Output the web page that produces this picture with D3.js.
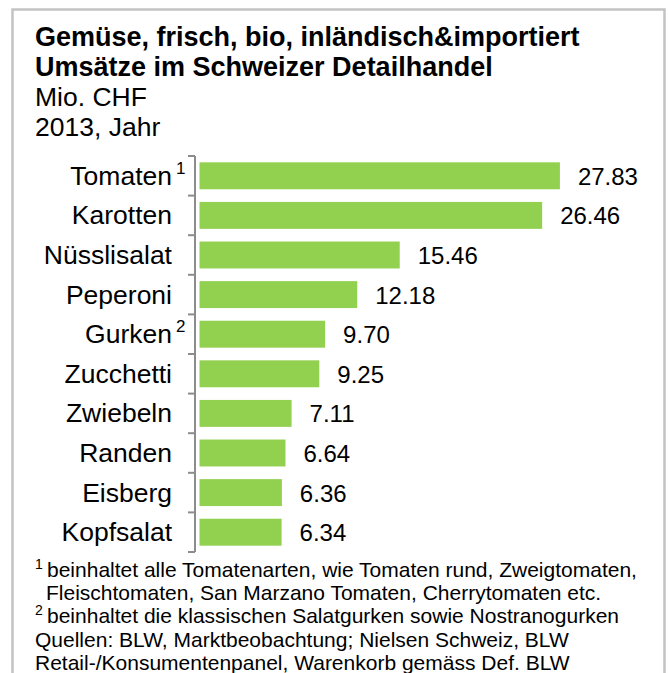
<!DOCTYPE html>
<html>
<head>
<meta charset="utf-8">
<script src="https://cdn.jsdelivr.net/npm/d3@7"></script>
<style>
  html, body { margin: 0; padding: 0; background: #fff; }
  svg { display: block; font-family: "Liberation Sans", Arial, sans-serif; }
</style>
</head>
<body>
<svg id="chart" width="668" height="673"></svg>
<script>
// data
const categories = ['Tomaten', 'Karotten', 'Nüsslisalat', 'Peperoni', 'Gurken', 'Zucchetti', 'Zwiebeln', 'Randen', 'Eisberg', 'Kopfsalat'];
const values = [27.83, 26.46, 15.46, 12.18, 9.70, 9.25, 7.11, 6.64, 6.36, 6.34];
const footnoteMarks = { 'Tomaten': '1', 'Gurken': '2' };
const titleLines = ['Gemüse, frisch, bio, inländisch&importiert', 'Umsätze im Schweizer Detailhandel'];
const subtitleLines = ['Mio. CHF', '2013, Jahr'];
const footnotes = [
    { mark: '1', text: 'beinhaltet alle Tomatenarten, wie Tomaten rund, Zweigtomaten,' },
    { mark: '', text: 'Fleischtomaten, San Marzano Tomaten, Cherrytomaten etc.', indent: true },
    { mark: '2', text: 'beinhaltet die klassischen Salatgurken sowie Nostranogurken' },
    { mark: '', text: 'Quellen: BLW, Marktbeobachtung; Nielsen Schweiz, BLW' },
    { mark: '', text: 'Retail-/Konsumentenpanel, Warenkorb gemäss Def. BLW' }
];

const svg = d3.select('#chart');

// frame
svg.append('rect')
    .attr('x', 12.5).attr('y', 9.5)
    .attr('width', 652).attr('height', 700)
    .attr('fill', 'none')
    .attr('stroke', '#c3c3c3')
    .attr('stroke-width', 2.5);

// title
const head = svg.append('g').attr('transform', 'translate(35,0)');
titleLines.forEach((t, i) => {
    head.append('text')
        .attr('y', 46 + i * 30)
        .attr('font-size', 27)
        .attr('font-weight', 'bold')
        .text(t);
});
subtitleLines.forEach((t, i) => {
    head.append('text')
        .attr('y', 106 + i * 30)
        .attr('font-size', 26.5)
        .text(t);
});

// scales
const y = d3.scaleBand()
    .domain(categories)
    .range([156, 552])
    .paddingInner(0.32)
    .paddingOuter(0.16);

const x = d3.scaleLinear()
    .domain([0, 30])
    .range([199.5, 199.5 + 30 * 12.95]);

// bars
svg.append('g')
    .selectAll('rect')
    .data(categories)
    .join('rect')
    .attr('x', x(0))
    .attr('y', d => y(d))
    .attr('width', (d, i) => x(values[i]) - x(0))
    .attr('height', y.bandwidth())
    .attr('fill', '#92d050');

// axis line + ticks at band boundaries
const axisX = 195;
const axis = svg.append('g').attr('stroke', '#8c8c8c').attr('stroke-width', 2);
axis.append('line')
    .attr('x1', axisX).attr('x2', axisX)
    .attr('y1', y.range()[0]).attr('y2', y.range()[1]);
axis.selectAll('line.tick')
    .data(d3.range(categories.length + 1))
    .join('line')
    .attr('class', 'tick')
    .attr('x1', axisX - 7).attr('x2', axisX)
    .attr('y1', i => y.range()[0] + i * y.step())
    .attr('y2', i => y.range()[0] + i * y.step());

// category labels
const labels = svg.append('g');
labels.selectAll('text')
    .data(categories)
    .join('text')
    .attr('x', 172)
    .attr('y', d => y(d) + y.bandwidth() / 2 + 9)
    .attr('text-anchor', 'end')
    .attr('font-size', 26.5)
    .text(d => d);
labels.selectAll('text.sup')
    .data(categories.filter(d => footnoteMarks[d]))
    .join('text')
    .attr('class', 'sup')
    .attr('x', 176)
    .attr('y', d => y(d) + y.bandwidth() / 2 - 2)
    .attr('font-size', 17)
    .text(d => footnoteMarks[d]);

// value labels
svg.append('g')
    .selectAll('text')
    .data(categories)
    .join('text')
    .attr('x', (d, i) => x(values[i]) + 18)
    .attr('y', d => y(d) + y.bandwidth() / 2 + 9)
    .attr('font-size', 24)
    .text((d, i) => values[i].toFixed(2));

// footnotes
const foot = svg.append('g').attr('transform', 'translate(35,0)');
footnotes.forEach((f, i) => {
    const by = 577 + i * 23.2;
    if (f.mark) {
        foot.append('text')
            .attr('y', by - 8)
            .attr('font-size', 14)
            .text(f.mark);
    }
    foot.append('text')
        .attr('x', f.mark ? 12 : (f.indent ? 11 : 0))
        .attr('y', by)
        .attr('font-size', 21)
        .text(f.text);
});
</script>
</body>
</html>
